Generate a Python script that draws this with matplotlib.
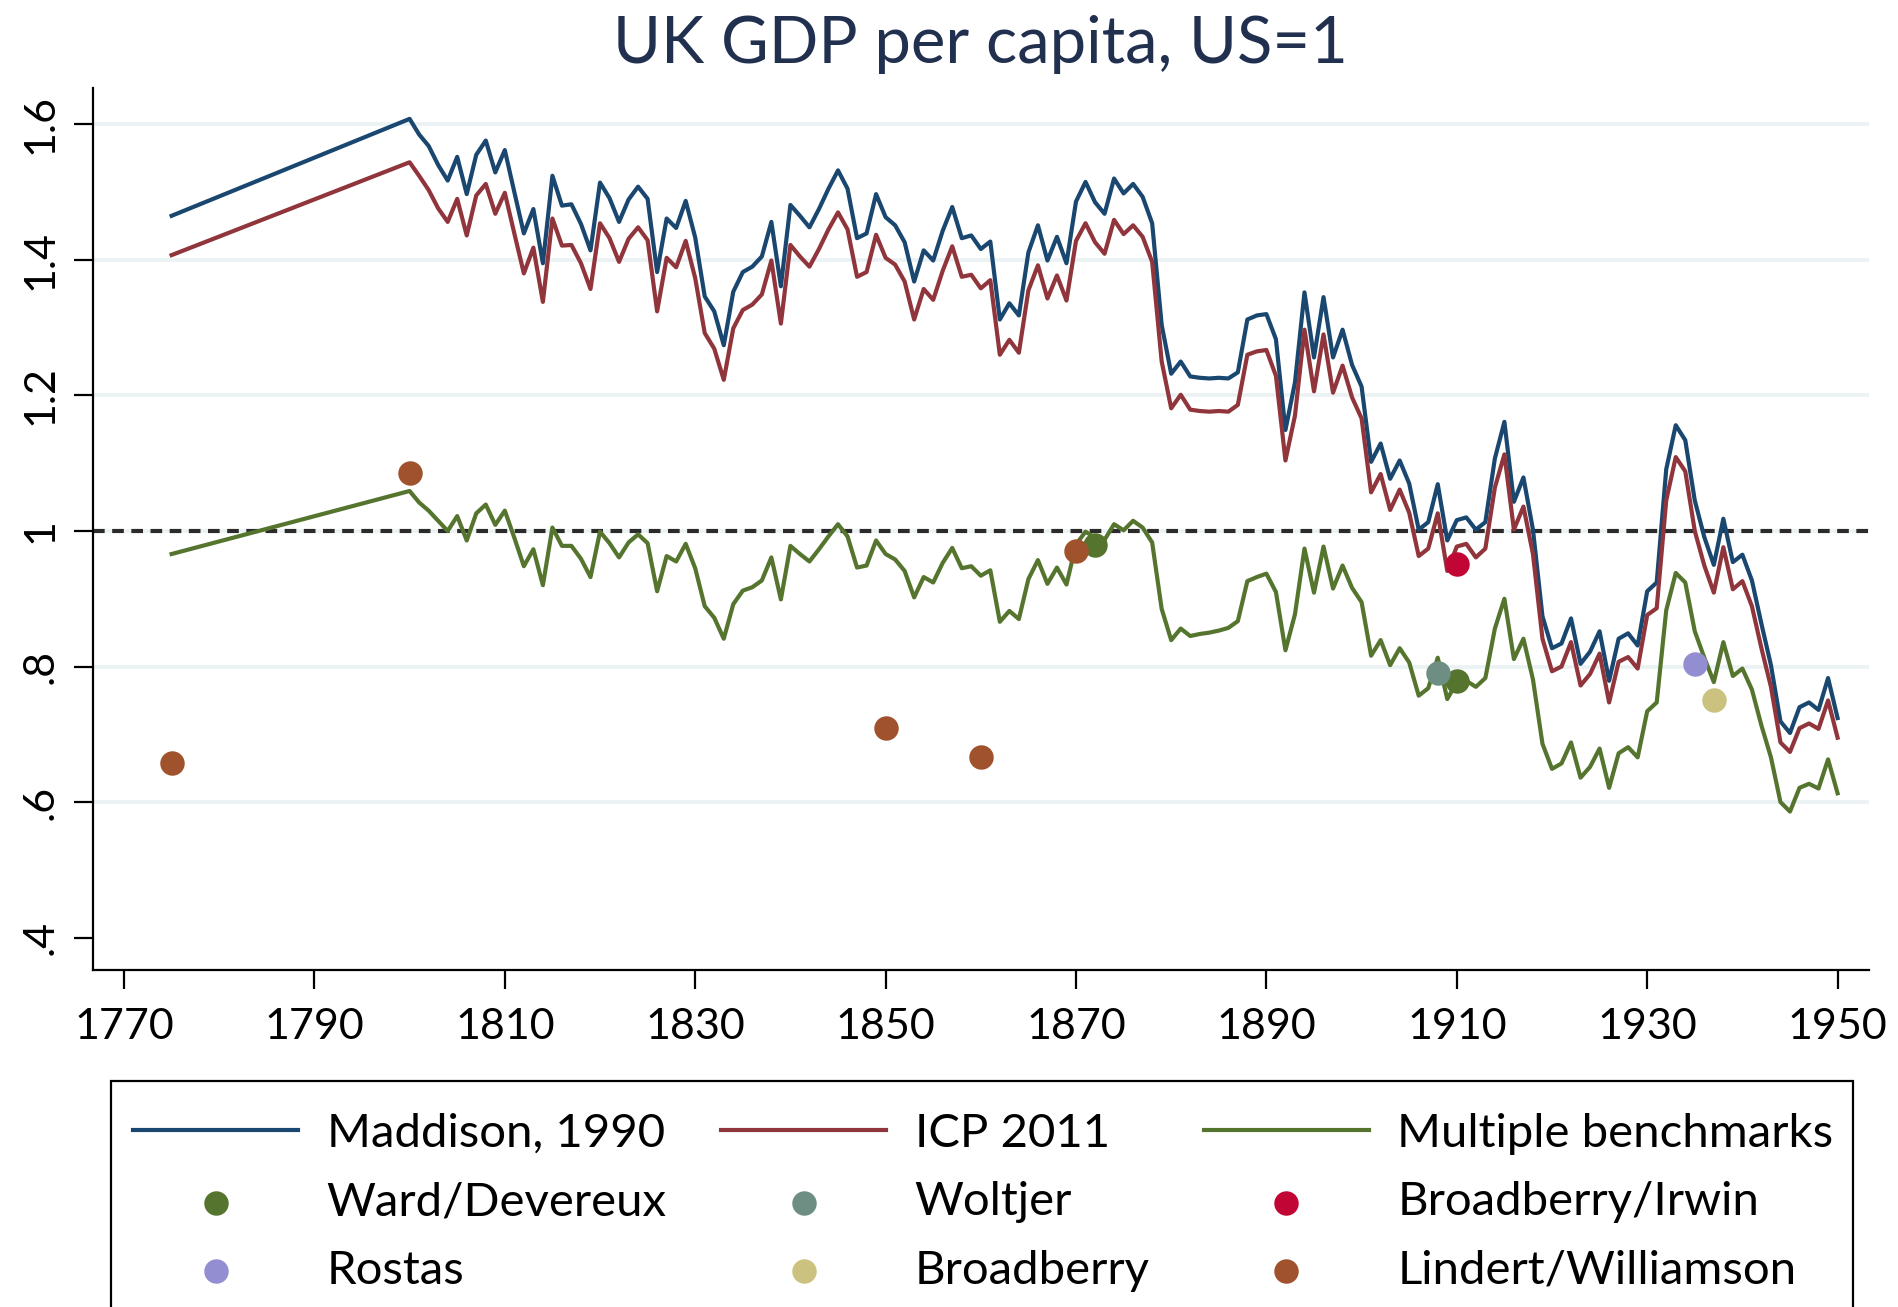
import matplotlib
matplotlib.use("Agg")
import matplotlib.pyplot as plt
from matplotlib.patches import Rectangle

plt.rcParams['font.family'] = ['Lato', 'DejaVu Sans']

# Years: one early point (1775), then yearly 1800-1950
years = [1775] + list(range(1800, 1951))

maddison_1990 = [
    1.465,
    1.608, 1.585, 1.568, 1.540, 1.517, 1.552, 1.497, 1.555, 1.576, 1.529,
    1.562, 1.500, 1.439, 1.475, 1.395, 1.524, 1.480, 1.482, 1.453, 1.414,
    1.514, 1.491, 1.456, 1.489, 1.508, 1.490, 1.382, 1.461, 1.447, 1.487,
    1.433, 1.346, 1.324, 1.274, 1.353, 1.382, 1.390, 1.405, 1.456, 1.361,
    1.481, 1.465, 1.448, 1.475, 1.505, 1.532, 1.505, 1.432, 1.439, 1.497,
    1.463, 1.451, 1.426, 1.368, 1.414, 1.399, 1.443, 1.478, 1.432, 1.436,
    1.416, 1.427, 1.312, 1.336, 1.318, 1.411, 1.451, 1.399, 1.434, 1.395,
    1.486, 1.515, 1.485, 1.468, 1.520, 1.498, 1.512, 1.493, 1.454, 1.304,
    1.232, 1.250, 1.228, 1.226, 1.225, 1.226, 1.225, 1.234, 1.312, 1.318,
    1.320, 1.283, 1.149, 1.219, 1.352, 1.256, 1.345, 1.256, 1.297, 1.245,
    1.213, 1.102, 1.129, 1.077, 1.104, 1.070, 1.002, 1.013, 1.069, 0.986,
    1.016, 1.020, 1.002, 1.013, 1.107, 1.161, 1.043, 1.079, 1.002, 0.874,
    0.827, 0.834, 0.871, 0.804, 0.822, 0.852, 0.779, 0.841, 0.849, 0.831,
    0.911, 0.924, 1.091, 1.156, 1.134, 1.045, 0.991, 0.950, 1.018, 0.954,
    0.965, 0.927, 0.863, 0.802, 0.719, 0.702, 0.740, 0.747, 0.736, 0.783,
    0.724,
]

icp_2011 = [
    1.407,
    1.544, 1.524, 1.503, 1.476, 1.456, 1.490, 1.436, 1.495, 1.512, 1.468,
    1.499, 1.439, 1.380, 1.418, 1.338, 1.461, 1.421, 1.422, 1.395, 1.357,
    1.454, 1.432, 1.397, 1.431, 1.448, 1.429, 1.324, 1.403, 1.389, 1.428,
    1.373, 1.292, 1.269, 1.223, 1.299, 1.326, 1.334, 1.349, 1.399, 1.306,
    1.422, 1.405, 1.390, 1.416, 1.445, 1.470, 1.445, 1.375, 1.382, 1.437,
    1.403, 1.393, 1.368, 1.312, 1.357, 1.341, 1.384, 1.420, 1.375, 1.378,
    1.358, 1.370, 1.260, 1.282, 1.263, 1.355, 1.392, 1.343, 1.377, 1.340,
    1.428, 1.454, 1.426, 1.409, 1.459, 1.438, 1.451, 1.434, 1.397, 1.250,
    1.181, 1.201, 1.179, 1.177, 1.176, 1.177, 1.176, 1.186, 1.260, 1.265,
    1.267, 1.229, 1.104, 1.170, 1.297, 1.206, 1.290, 1.204, 1.244, 1.197,
    1.166, 1.057, 1.084, 1.031, 1.061, 1.027, 0.963, 0.974, 1.026, 0.941,
    0.977, 0.981, 0.961, 0.974, 1.064, 1.113, 1.002, 1.036, 0.966, 0.841,
    0.793, 0.800, 0.836, 0.772, 0.789, 0.819, 0.747, 0.807, 0.814, 0.797,
    0.876, 0.886, 1.045, 1.109, 1.088, 1.000, 0.949, 0.909, 0.976, 0.914,
    0.926, 0.889, 0.827, 0.770, 0.688, 0.674, 0.709, 0.716, 0.708, 0.750,
    0.695,
]

multiple_benchmarks = [
    0.966,
    1.059, 1.042, 1.030, 1.015, 1.000, 1.022, 0.986, 1.026, 1.039, 1.009,
    1.030, 0.990, 0.948, 0.973, 0.920, 1.005, 0.978, 0.978, 0.959, 0.932,
    0.999, 0.982, 0.961, 0.983, 0.995, 0.982, 0.911, 0.963, 0.955, 0.981,
    0.945, 0.889, 0.872, 0.841, 0.892, 0.912, 0.917, 0.927, 0.961, 0.899,
    0.978, 0.966, 0.955, 0.973, 0.992, 1.010, 0.992, 0.946, 0.949, 0.986,
    0.966, 0.958, 0.941, 0.902, 0.932, 0.924, 0.953, 0.975, 0.945, 0.948,
    0.934, 0.942, 0.866, 0.882, 0.870, 0.929, 0.957, 0.922, 0.946, 0.921,
    0.980, 0.999, 0.990, 0.987, 1.010, 1.001, 1.015, 1.005, 0.983, 0.885,
    0.839, 0.856, 0.845, 0.848, 0.850, 0.853, 0.857, 0.867, 0.926, 0.932,
    0.937, 0.910, 0.824, 0.877, 0.974, 0.909, 0.977, 0.915, 0.949, 0.916,
    0.895, 0.816, 0.839, 0.802, 0.827, 0.806, 0.757, 0.768, 0.813, 0.752,
    0.777, 0.779, 0.770, 0.783, 0.856, 0.900, 0.811, 0.841, 0.781, 0.686,
    0.649, 0.657, 0.688, 0.636, 0.652, 0.679, 0.621, 0.672, 0.681, 0.666,
    0.734, 0.747, 0.883, 0.938, 0.924, 0.852, 0.813, 0.777, 0.836, 0.786,
    0.797, 0.766, 0.713, 0.666, 0.600, 0.586, 0.621, 0.627, 0.620, 0.663,
    0.613,
]

# Benchmark estimates (year, value)
ward_devereux_years = [1872, 1910]
ward_devereux_vals = [0.980, 0.779]
woltjer_years = [1908]
woltjer_vals = [0.791]
broadberry_irwin_years = [1910]
broadberry_irwin_vals = [0.951]
rostas_years = [1935]
rostas_vals = [0.804]
broadberry_years = [1937]
broadberry_vals = [0.750]
lindert_williamson_years = [1775, 1800, 1850, 1860, 1870]
lindert_williamson_vals = [0.657, 1.086, 0.709, 0.666, 0.970]

x_ticks = [1770, 1790, 1810, 1830, 1850, 1870, 1890, 1910, 1930, 1950]
y_ticks = [0.4, 0.6, 0.8, 1.0, 1.2, 1.4, 1.6]
y_tick_labels = ['.4', '.6', '.8', '1', '1.2', '1.4', '1.6']

# Stata s2color-like palette
NAVY = '#1a476f'
MAROON = '#90353b'
FOREST = '#55752f'
TEAL = '#6e8e84'
CRANBERRY = '#c10534'
LAVENDER = '#938dd2'
KHAKI = '#cac27e'
SIENNA = '#a0522d'
GRID = '#eaf2f3'

W, H = 1899, 1307
fig = plt.figure(figsize=(W / 100, H / 100), dpi=100)
ax = fig.add_axes([92.6 / W, 1 - 969.5 / H, (1869 - 92.6) / W, (969.5 - 87.7) / H])

ax.set_xlim(1766.7, 1953.3)
ax.set_ylim(0.353, 1.654)

# light horizontal grid (none at the bottom tick)
for g in y_ticks[1:]:
    ax.axhline(g, color=GRID, lw=2.6, zorder=0)
ax.axhline(1.0, color='#2b2b2b', lw=3.0, linestyle=(0, (2.8, 1.8)), zorder=1)

lw = 3.0
l_mad, = ax.plot(years, maddison_1990, color=NAVY, lw=lw, zorder=2)
l_icp, = ax.plot(years, icp_2011, color=MAROON, lw=lw, zorder=2)
l_mul, = ax.plot(years, multiple_benchmarks, color=FOREST, lw=lw, zorder=2)

ms = 310
s_wd = ax.scatter(ward_devereux_years, ward_devereux_vals, s=ms, color=FOREST, lw=0, zorder=3)
s_wo = ax.scatter(woltjer_years, woltjer_vals, s=ms, color=TEAL, lw=0, zorder=3)
s_bi = ax.scatter(broadberry_irwin_years, broadberry_irwin_vals, s=ms, color=CRANBERRY, lw=0, zorder=3)
s_ro = ax.scatter(rostas_years, rostas_vals, s=ms, color=LAVENDER, lw=0, zorder=3)
s_br = ax.scatter(broadberry_years, broadberry_vals, s=ms, color=KHAKI, lw=0, zorder=3)
s_lw = ax.scatter(lindert_williamson_years, lindert_williamson_vals, s=ms, color=SIENNA, lw=0, zorder=3)

# axes styling
for side in ['top', 'right']:
    ax.spines[side].set_visible(False)
for side in ['left', 'bottom']:
    ax.spines[side].set_linewidth(1.6)
    ax.spines[side].set_color('black')

ax.set_xticks(x_ticks)
ax.set_xticklabels([str(t) for t in x_ticks])
ax.set_yticks(y_ticks)
ax.set_yticklabels(y_tick_labels, rotation=90, va='center')
ax.tick_params(axis='both', length=14, width=1.6, labelsize=31, color='black')
ax.tick_params(axis='x', pad=14)
ax.tick_params(axis='y', pad=10)

fig.text((92.6 + 1869) / 2 / W, 1 - 63 / H, 'UK GDP per capita, US=1',
         ha='center', va='baseline', fontsize=47, color='#22304f')

# legend is filled column by column, so reorder to read row-wise like the original
handles = [l_mad, s_wd, s_ro, l_icp, s_wo, s_br, l_mul, s_bi, s_lw]
labels = ['Maddison, 1990', 'Ward/Devereux', 'Rostas',
          'ICP 2011', 'Woltjer', 'Broadberry',
          'Multiple benchmarks', 'Broadberry/Irwin', 'Lindert/Williamson']
leg = fig.legend(handles, labels, ncol=3, loc='upper left',
                 bbox_to_anchor=(133 / W, 1 - 1113 / H), bbox_transform=fig.transFigure,
                 fontsize=34, frameon=False, handlelength=3.5,
                 handletextpad=0.6, columnspacing=1.15, labelspacing=0.56,
                 borderpad=0, borderaxespad=0)

# legend box runs off the bottom of the image, as in the original
box = Rectangle((111 / W, -0.05), (1853 - 111) / W, 0.05 + 1 - 1081 / H,
                transform=fig.transFigure, fill=False, edgecolor='black', lw=1.6)
fig.patches.append(box)

plt.savefig('out.png', dpi=100)
plt.close()
